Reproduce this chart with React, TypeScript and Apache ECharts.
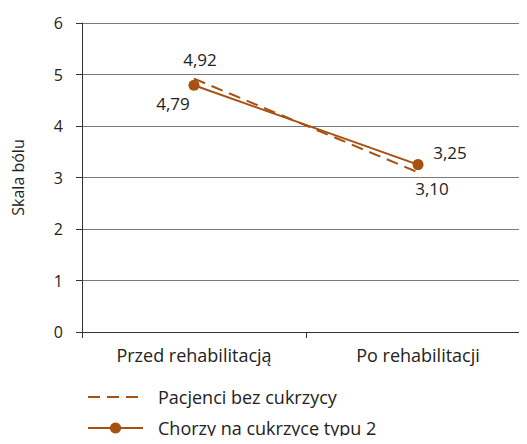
import React, { useEffect, useRef } from "react";
import * as echarts from "echarts";

const categories = ["Przed rehabilitacją", "Po rehabilitacji"];
const seriesNames = ["Pacjenci bez cukrzycy", "Chorzy na cukrzycę typu 2"];
const noDiabetes = [4.92, 3.1];
const diabetes = [4.79, 3.25];
const yTicks = [0, 1, 2, 3, 4, 5, 6];

const COLOR = "#a8500f";
const FONT = "Open Sans";
const TEXT = "#222";
const fmt = (v: number) => v.toFixed(2).replace(".", ",");

export default function App() {
  const ref = useRef<HTMLDivElement>(null);
  useEffect(() => {
    const chart = echarts.init(ref.current!, undefined, { renderer: "svg" });
    const legendBase = {
      orient: "vertical",
      left: 82,
      itemWidth: 55,
      itemHeight: 14,
      textStyle: {
        fontFamily: FONT,
        fontSize: 18,
        color: TEXT,
        padding: [0, 0, 0, 10],
      },
    };
    chart.setOption({
      animation: false,
      textStyle: { fontFamily: FONT, color: TEXT },
      grid: {
        left: 82,
        right: -3,
        top: 23,
        bottom: 112,
        outerBoundsMode: "none",
        containLabel: false,
      },
      legend: [
        { ...legendBase, top: 383, data: [seriesNames[0]] },
        { ...legendBase, top: 414, data: [seriesNames[1]] },
      ],
      xAxis: {
        type: "category",
        data: categories,
        axisLine: { lineStyle: { color: "#333", width: 1 } },
        axisTick: { show: true, length: 6, lineStyle: { color: "#333" } },
        axisLabel: { fontFamily: FONT, fontSize: 18, color: TEXT, margin: 14 },
      },
      yAxis: {
        type: "value",
        min: yTicks[0],
        max: yTicks[yTicks.length - 1],
        interval: 1,
        name: "Skala bólu",
        nameLocation: "middle",
        nameGap: 56,
        nameTextStyle: { fontFamily: FONT, fontSize: 16, color: TEXT },
        axisLine: { show: true, lineStyle: { color: "#333", width: 1 } },
        axisTick: { show: true, length: 6, lineStyle: { color: "#333" } },
        axisLabel: { fontFamily: FONT, fontSize: 16, color: TEXT, margin: 19 },
        splitLine: { lineStyle: { color: "#7a7a7a", width: 1 } },
      },
      series: [
        {
          name: seriesNames[0],
          type: "line",
          data: noDiabetes.map((v, i) => ({
            value: v,
            label: {
              show: true,
              position: "inside",
              offset: i === 0 ? [6, -19] : [14, 16],
            },
          })),
          symbol: "circle",
          symbolSize: 2,
          showSymbol: true,
          itemStyle: { color: "rgba(0,0,0,0)" },
          lineStyle: { color: COLOR, width: 2, type: [12, 7] },
          label: {
            formatter: (p: any) => fmt(p.value),
            fontFamily: FONT,
            fontSize: 17,
            color: TEXT,
          },
          z: 2,
        },
        {
          name: seriesNames[1],
          type: "line",
          data: diabetes.map((v, i) => ({
            value: v,
            label: {
              show: true,
              position: "inside",
              offset: i === 0 ? [-21, 18] : [32, -12],
            },
          })),
          symbol: "circle",
          symbolSize: 11,
          lineStyle: { color: COLOR, width: 2 },
          itemStyle: { color: COLOR },
          label: {
            formatter: (p: any) => fmt(p.value),
            fontFamily: FONT,
            fontSize: 17,
            color: TEXT,
          },
          z: 3,
        },
      ],
    });
    return () => chart.dispose();
  }, []);
  return <div ref={ref} style={{ width: 527, height: 444, margin: -8 }} />;
}
